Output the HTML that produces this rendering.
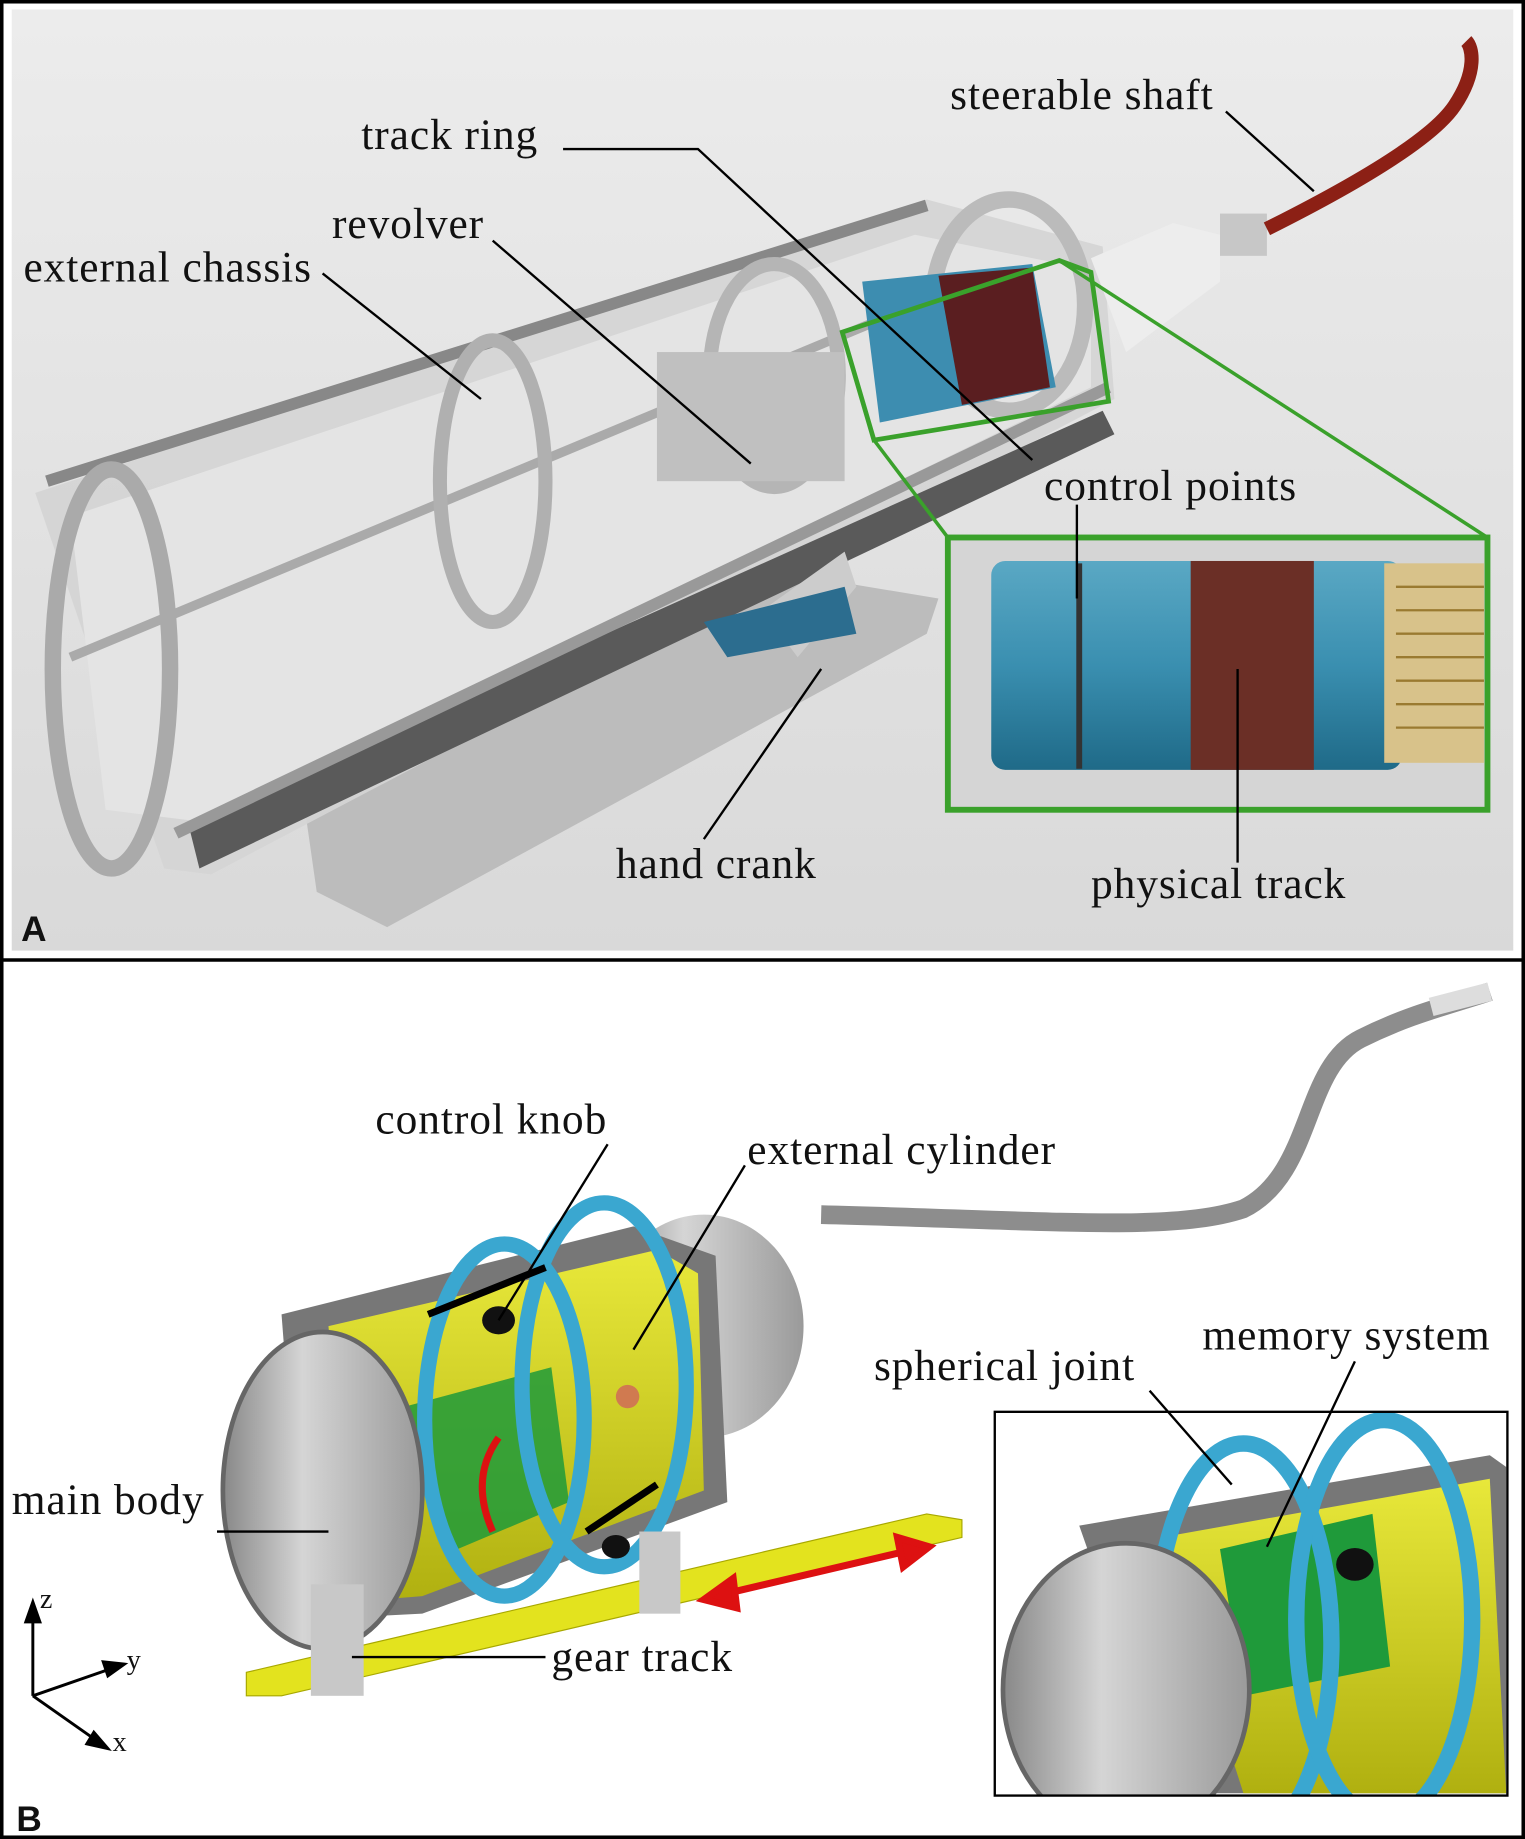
<!DOCTYPE html>
<html><head><meta charset="utf-8"><style>
html,body{margin:0;padding:0;background:#fff}
svg{display:block}
text{font-family:"Liberation Serif",serif;font-size:37px;letter-spacing:0.8px;fill:#111}
.lb{font-family:"Liberation Sans",sans-serif;font-weight:bold;font-size:30px;letter-spacing:0}
</style></head><body>
<svg width="1525" height="1839" viewBox="0 0 1300 1567" preserveAspectRatio="none" xmlns="http://www.w3.org/2000/svg">
<defs>
<linearGradient id="bgA" x1="0" y1="0" x2="0" y2="1"><stop offset="0" stop-color="#ececec"/><stop offset="1" stop-color="#d9d9d9"/></linearGradient>
<linearGradient id="gray" x1="0" y1="0" x2="1" y2="0"><stop offset="0" stop-color="#888"/><stop offset=".4" stop-color="#d5d5d5"/><stop offset="1" stop-color="#9a9a9a"/></linearGradient>
<linearGradient id="blue" x1="0" y1="0" x2="0" y2="1"><stop offset="0" stop-color="#5aa8c4"/><stop offset=".5" stop-color="#3a8fb0"/><stop offset="1" stop-color="#1f6a88"/></linearGradient>
<linearGradient id="yel" x1="0" y1="0" x2="0" y2="1"><stop offset="0" stop-color="#e8e83a"/><stop offset="1" stop-color="#b0b010"/></linearGradient>
<clipPath id="cb"><rect x="848" y="1203" width="437" height="327"/></clipPath>
</defs>
<rect x="0" y="0" width="1300" height="1567" fill="#fff"/>
<!-- Panel A -->
<rect x="10" y="8" width="1280" height="802" fill="url(#bgA)"/>
<polygon points="260,690 620,480 800,510 790,540 330,790 270,760" fill="#bcbcbc"/>
<polygon points="30,420 790,170 940,210 950,340 180,745 140,740" fill="#d4d4d4" opacity=".9"/>
<polygon points="60,440 780,200 930,230 930,330 170,700 90,690" fill="#e4e4e4"/>
<polygon points="160,700 940,350 950,370 170,740" fill="#5a5a5a"/>
<polyline points="40,410 790,175" stroke="#888" stroke-width="10" fill="none"/>
<polyline points="150,710 945,330" stroke="#999" stroke-width="10" fill="none"/>
<polyline points="60,560 780,260" stroke="#aaa" stroke-width="8" fill="none"/>
<ellipse cx="95" cy="570" rx="50" ry="170" fill="none" stroke="#aaa" stroke-width="14"/>
<ellipse cx="420" cy="410" rx="45" ry="120" fill="none" stroke="#b0b0b0" stroke-width="12"/>
<ellipse cx="660" cy="320" rx="55" ry="95" fill="none" stroke="#b5b5b5" stroke-width="12"/>
<ellipse cx="860" cy="260" rx="65" ry="90" fill="none" stroke="#bbb" stroke-width="14"/>
<rect x="560" y="300" width="160" height="110" fill="#c0c0c0"/>
<polygon points="735,240 880,225 900,330 750,360" fill="#3d8db0"/>
<polygon points="800,235 880,228 895,330 820,345" fill="#5a1e20"/>
<polygon points="930,220 1000,190 1040,200 1040,240 960,300" fill="#ededed"/>
<rect x="1040" y="182" width="40" height="36" fill="#c7c7c7"/>
<path d="M1080,195 C1150,160 1220,120 1240,90 S1255,40 1250,35" stroke="#8c2015" stroke-width="12" fill="none"/>
<polygon points="650,520 720,470 730,500 680,560" fill="#ccc"/>
<polygon points="600,530 720,500 730,540 620,560" fill="#2c6d8f"/>
<polygon points="718,283 903,222 930,232 945,342 745,375" fill="none" stroke="#3aa12b" stroke-width="4"/>
<line x1="903" y1="222" x2="1268" y2="458" stroke="#3aa12b" stroke-width="3"/>
<line x1="745" y1="375" x2="808" y2="458" stroke="#3aa12b" stroke-width="3"/>
<rect x="808" y="458" width="460" height="232" fill="#d5d5d5"/>
<rect x="845" y="478" width="350" height="178" rx="12" fill="url(#blue)"/>
<rect x="1015" y="478" width="105" height="178" fill="#6b2f26"/>
<rect x="1180" y="480" width="85" height="170" fill="#d8c28a"/>
<g stroke="#9a7a30" stroke-width="2"><line x1="1190" y1="500" x2="1265" y2="500"/><line x1="1190" y1="520" x2="1265" y2="520"/><line x1="1190" y1="540" x2="1265" y2="540"/><line x1="1190" y1="560" x2="1265" y2="560"/><line x1="1190" y1="580" x2="1265" y2="580"/><line x1="1190" y1="600" x2="1265" y2="600"/><line x1="1190" y1="620" x2="1265" y2="620"/></g>
<line x1="920" y1="480" x2="920" y2="655" stroke="#333" stroke-width="5"/>
<rect x="808" y="458" width="460" height="232" fill="none" stroke="#3aa12b" stroke-width="5"/>
<g stroke="#000" stroke-width="2" fill="none">
<polyline points="480,127 595,127 880,392"/>
<polyline points="420,205 640,395"/>
<polyline points="275,233 410,340"/>
<polyline points="1045,95 1120,163"/>
<polyline points="918,430 918,510"/>
<polyline points="1055,735 1055,570"/>
<polyline points="600,715 700,570"/>
</g>
<text x="308" y="127">track ring</text>
<text x="283" y="203">revolver</text>
<text x="20" y="240">external chassis</text>
<text x="810" y="93">steerable shaft</text>
<text x="890" y="426">control points</text>
<text x="525" y="748">hand crank</text>
<text x="930" y="765">physical track</text>
<text class="lb" x="18" y="802">A</text>
<!-- Panel B -->
<line x1="0" y1="818" x2="1300" y2="818" stroke="#000" stroke-width="3"/>
<path d="M700,1035 C900,1040 1000,1050 1060,1030 C1120,1000 1110,910 1160,885 C1200,865 1230,858 1270,845" stroke="#8d8d8d" stroke-width="16" fill="none"/>
<path d="M1220,858 L1270,845" stroke="#ddd" stroke-width="16"/>
<ellipse cx="600" cy="1130" rx="85" ry="95" fill="url(#gray)"/>
<polygon points="240,1120 540,1045 610,1070 620,1280 360,1375 260,1380" fill="#777"/>
<polygon points="280,1130 560,1065 595,1085 600,1270 360,1360 300,1365" fill="url(#yel)"/>
<polygon points="340,1200 470,1165 485,1280 390,1320" fill="#1f9a3a" opacity=".85"/>
<ellipse cx="430" cy="1210" rx="68" ry="150" fill="none" stroke="#3aa7d0" stroke-width="13"/>
<ellipse cx="515" cy="1180" rx="70" ry="155" fill="none" stroke="#3aa7d0" stroke-width="13"/>
<ellipse cx="275" cy="1270" rx="85" ry="135" fill="url(#gray)" stroke="#666" stroke-width="4"/>
<ellipse cx="425" cy="1125" rx="14" ry="12" fill="#111"/>
<ellipse cx="525" cy="1318" rx="12" ry="10" fill="#111"/>
<circle cx="535" cy="1190" r="10" fill="#d07a50"/>
<polygon points="210,1425 790,1290 820,1295 820,1310 240,1445 210,1445" fill="#e3e31e" stroke="#a8a800"/>
<rect x="265" y="1350" width="45" height="95" fill="#c8c8c8"/>
<rect x="545" y="1305" width="35" height="70" fill="#c8c8c8"/>
<g stroke="#d11" stroke-width="6" fill="#d11"><line x1="610" y1="1360" x2="780" y2="1320"/><polygon points="600,1363 625,1345 628,1370"/><polygon points="792,1318 765,1310 770,1335"/>
<path d="M425,1225 Q400,1260 420,1305" fill="none"/></g>
<g stroke="#000" stroke-width="6"><line x1="365" y1="1120" x2="465" y2="1080"/><line x1="500" y1="1305" x2="560" y2="1265"/></g>
<!-- inset B -->
<rect x="848" y="1203" width="437" height="327" fill="#fff"/>
<g clip-path="url(#cb)">
<polygon points="920,1300 1270,1240 1284,1250 1284,1528 1000,1528" fill="#777"/>
<polygon points="990,1310 1270,1260 1284,1528 1060,1528" fill="url(#yel)"/>
<polygon points="1040,1320 1170,1290 1185,1420 1060,1445" fill="#1f9a3a"/>
<ellipse cx="1060" cy="1400" rx="75" ry="170" fill="none" stroke="#3aa7d0" stroke-width="14"/>
<ellipse cx="1180" cy="1380" rx="75" ry="170" fill="none" stroke="#3aa7d0" stroke-width="14"/>
<ellipse cx="960" cy="1440" rx="105" ry="125" fill="url(#gray)" stroke="#666" stroke-width="4"/>
<ellipse cx="1155" cy="1333" rx="16" ry="14" fill="#111"/>
</g>
<rect x="848" y="1203" width="437" height="327" fill="none" stroke="#000" stroke-width="2"/>
<g stroke="#000" stroke-width="2" fill="none">
<line x1="518" y1="975" x2="425" y2="1125"/>
<line x1="635" y1="993" x2="540" y2="1150"/>
<line x1="185" y1="1305" x2="280" y2="1305"/>
<line x1="465" y1="1412" x2="300" y2="1412"/>
<line x1="980" y1="1185" x2="1050" y2="1265"/>
<line x1="1155" y1="1160" x2="1080" y2="1318"/>
</g>
<text x="320" y="966">control knob</text>
<text x="637" y="992">external cylinder</text>
<text x="1025" y="1150">memory system</text>
<text x="745" y="1176">spherical joint</text>
<text x="10" y="1290">main body</text>
<text x="470" y="1424">gear track</text>
<g stroke="#000" stroke-width="2.5" fill="#000">
<line x1="28" y1="1445" x2="28" y2="1372"/><polygon points="28,1365 22,1382 34,1382"/>
<line x1="28" y1="1445" x2="100" y2="1420"/><polygon points="106,1418 88,1416 92,1428"/>
<line x1="28" y1="1445" x2="85" y2="1485"/><polygon points="92,1490 80,1476 74,1486"/>
</g>
<text x="34" y="1370" style="font-size:24px">z</text>
<text x="108" y="1422" style="font-size:24px">y</text>
<text x="96" y="1492" style="font-size:24px">x</text>
<text class="lb" x="14" y="1560">B</text>
<rect x="1.5" y="1.5" width="1297" height="1564" fill="none" stroke="#000" stroke-width="3"/>
</svg>
</body></html>
